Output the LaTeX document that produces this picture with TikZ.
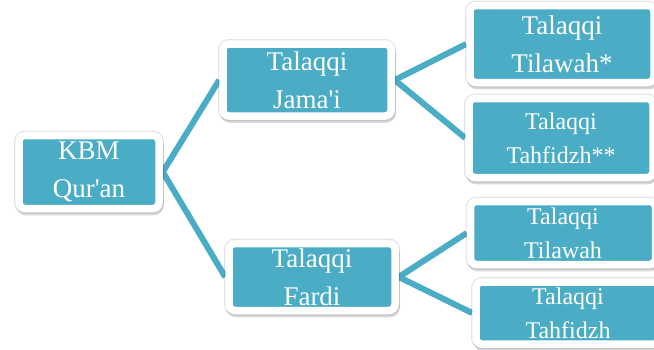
\documentclass[tikz,border=0pt]{standalone}
\usepackage{fontspec}
\setmainfont{Liberation Serif}
\usetikzlibrary{positioning,shadows,backgrounds}
\definecolor{kbmTeal}{HTML}{4BACC6}

\begin{document}
\begin{tikzpicture}[
    x=1pt, y=-1pt,
    boxNode/.style={
        rectangle, rounded corners=6pt, draw=white, line width=7.5pt,
        fill=kbmTeal, text=white, align=center, inner sep=0pt,
        font=\fontsize{27}{38}\selectfont,
        general shadow={opacity=0.10, draw=black, fill=black, line width=10pt},
        drop shadow={opacity=0.22, draw=black!70, fill=black!70, line width=7.5pt,
            shadow xshift=1pt, shadow yshift=-3pt}
    },
    smallText/.style={font=\fontsize{24}{34}\selectfont},
    linkLine/.style={draw=kbmTeal, line width=6pt}
]
\useasboundingbox (0,0) rectangle (654,349);

% Root
\node[boxNode, minimum width=140pt, minimum height=73pt] (kbm) at (89,172) {KBM\\Qur\textquotesingle an};

% Middle level
\node[boxNode, minimum width=168pt, minimum height=72pt] (jamai) at (307,80) {Talaqqi\\Jama\textquotesingle i};
\node[boxNode, minimum width=166pt, minimum height=67pt] (fardi) at (312,277) {Talaqqi\\Fardi};

% Right level
\node[boxNode, minimum width=184pt, minimum height=77pt] (tilawahJ) at (562,44) {Talaqqi\\Tilawah*};
\node[boxNode, smallText, minimum width=184pt, minimum height=79pt] (tahfidzhJ) at (561,138) {Talaqqi\\Tahfidzh**};
\node[boxNode, smallText, minimum width=185pt, minimum height=63pt] (tilawahF) at (563,233) {Talaqqi\\Tilawah};
\node[boxNode, smallText, minimum width=184pt, minimum height=62pt] (tahfidzhF) at (568,313) {Talaqqi\\Tahfidzh};

% Links
\begin{scope}[on background layer]
    \draw[linkLine] (kbm.east) -- (jamai.west);
    \draw[linkLine] (kbm.east) -- (fardi.west);
    \draw[linkLine] (jamai.east) -- (tilawahJ.west);
    \draw[linkLine] (jamai.east) -- (tahfidzhJ.west);
    \draw[linkLine] (fardi.east) -- (tilawahF.west);
    \draw[linkLine] (fardi.east) -- (tahfidzhF.west);
\end{scope}

\end{tikzpicture}
\end{document}
